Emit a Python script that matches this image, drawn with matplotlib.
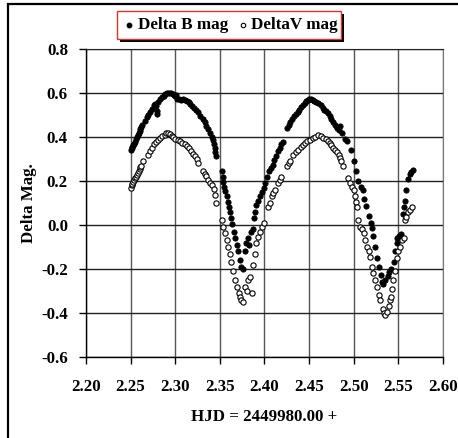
import matplotlib
matplotlib.use("Agg")
import matplotlib.pyplot as plt
from matplotlib.patches import Rectangle

# ---- data ----
b_hjd = [2.250, 2.251, 2.252, 2.253, 2.254, 2.255, 2.256, 2.257, 2.258, 2.259,
         2.260, 2.261, 2.262, 2.263, 2.266, 2.268, 2.270, 2.272, 2.274, 2.276,
         2.277, 2.278, 2.279, 2.280, 2.281, 2.283, 2.285, 2.287, 2.289, 2.291,
         2.293, 2.295, 2.297, 2.299, 2.300, 2.301, 2.302, 2.304, 2.306, 2.309,
         2.311, 2.313, 2.315, 2.317, 2.319, 2.321, 2.323, 2.325, 2.328, 2.331,
         2.333, 2.335, 2.337, 2.339, 2.341, 2.342, 2.343, 2.344, 2.345, 2.346,
         2.352, 2.353, 2.354, 2.355, 2.356, 2.358, 2.359, 2.360, 2.361, 2.363,
         2.364, 2.366, 2.367, 2.369, 2.370, 2.372, 2.374, 2.376, 2.378, 2.379,
         2.381, 2.383, 2.385, 2.387, 2.388, 2.389, 2.391, 2.393, 2.395, 2.397,
         2.399, 2.401, 2.403, 2.405, 2.407, 2.409, 2.411, 2.413, 2.415, 2.417,
         2.419, 2.421, 2.425, 2.427, 2.429, 2.431, 2.433, 2.435, 2.437, 2.439,
         2.441, 2.443, 2.445, 2.447, 2.449, 2.450, 2.452, 2.454, 2.456, 2.458,
         2.460, 2.463, 2.465, 2.467, 2.469, 2.471, 2.473, 2.475, 2.477, 2.479,
         2.481, 2.483, 2.485, 2.487, 2.490, 2.492, 2.497, 2.500, 2.502, 2.505,
         2.508, 2.510, 2.512, 2.514, 2.517, 2.519, 2.520, 2.522, 2.524, 2.526,
         2.528, 2.530, 2.532, 2.533, 2.535, 2.538, 2.540, 2.542, 2.545, 2.546,
         2.548, 2.549, 2.551, 2.553, 2.555, 2.556, 2.557, 2.559, 2.561, 2.563,
         2.564, 2.566]
b_mag = [0.340, 0.348, 0.355, 0.362, 0.370, 0.378, 0.390, 0.400, 0.410, 0.418,
         0.428, 0.436, 0.445, 0.455, 0.475, 0.490, 0.500, 0.512, 0.528, 0.545,
         0.552, 0.540, 0.520, 0.505, 0.560, 0.572, 0.580, 0.588, 0.595, 0.598,
         0.600, 0.598, 0.596, 0.590, 0.585, 0.592, 0.575, 0.572, 0.568, 0.575,
         0.570, 0.565, 0.558, 0.550, 0.540, 0.532, 0.522, 0.512, 0.495, 0.480,
         0.470, 0.452, 0.438, 0.420, 0.400, 0.385, 0.368, 0.350, 0.330, 0.315,
         0.245, 0.220, 0.195, 0.175, 0.155, 0.130, 0.105, 0.080, 0.060, 0.030,
         0.005, -0.030, -0.060, -0.090, -0.120, -0.160, -0.190, -0.200, -0.120, -0.080,
         -0.060, -0.090, -0.030, -0.020, 0.030, 0.060, 0.090, 0.110, 0.130, 0.150,
         0.170, 0.190, 0.220, 0.245, 0.260, 0.275, 0.295, 0.315, 0.335, 0.350,
         0.370, 0.378, 0.440, 0.455, 0.470, 0.482, 0.495, 0.505, 0.515, 0.525,
         0.535, 0.545, 0.555, 0.562, 0.570, 0.575, 0.572, 0.568, 0.565, 0.560,
         0.556, 0.545, 0.530, 0.525, 0.520, 0.510, 0.495, 0.482, 0.470, 0.455,
         0.440, 0.430, 0.450, 0.420, 0.390, 0.380, 0.340, 0.290, 0.245, 0.200,
         0.175, 0.160, 0.120, 0.085, 0.040, 0.010, -0.015, -0.050, -0.100, -0.150,
         -0.190, -0.225, -0.260, -0.270, -0.250, -0.230, -0.215, -0.200, -0.170, -0.120,
         -0.080, -0.060, -0.050, -0.040, 0.050, 0.080, 0.110, 0.160, 0.210, 0.230,
         0.240, 0.250]

v_hjd = [2.250, 2.251, 2.252, 2.253, 2.254, 2.255, 2.256, 2.257, 2.258, 2.259,
         2.260, 2.261, 2.262, 2.264, 2.270, 2.272, 2.274, 2.276, 2.278, 2.281,
         2.283, 2.285, 2.288, 2.290, 2.292, 2.294, 2.296, 2.298, 2.300, 2.303,
         2.305, 2.308, 2.311, 2.313, 2.315, 2.318, 2.320, 2.322, 2.324, 2.326,
         2.331, 2.333, 2.335, 2.337, 2.339, 2.341, 2.343, 2.344, 2.346,
         2.352, 2.354, 2.356, 2.358, 2.359, 2.361, 2.363, 2.365, 2.367, 2.369,
         2.371, 2.373, 2.374, 2.376, 2.378, 2.380, 2.382, 2.384, 2.386, 2.3875,
         2.389, 2.391, 2.393, 2.395, 2.397, 2.399,
         2.404, 2.406, 2.408, 2.410, 2.412, 2.415, 2.417, 2.419, 2.425, 2.427,
         2.429, 2.432, 2.435, 2.438, 2.441, 2.443, 2.445, 2.448, 2.451, 2.454,
         2.457, 2.460, 2.463, 2.466, 2.469, 2.471, 2.473, 2.475, 2.477, 2.479,
         2.481, 2.483, 2.485, 2.486, 2.488, 2.494, 2.496, 2.498, 2.500, 2.501,
         2.503, 2.504, 2.505, 2.507, 2.509, 2.511, 2.513, 2.515, 2.517, 2.518,
         2.520, 2.522, 2.524, 2.526, 2.528, 2.529, 2.533, 2.534, 2.535, 2.537,
         2.539, 2.541, 2.542, 2.543, 2.544, 2.546, 2.548, 2.550, 2.552, 2.554,
         2.556, 2.557, 2.559, 2.561, 2.563, 2.565]
v_mag = [0.170, 0.180, 0.188, 0.195, 0.205, 0.212, 0.220, 0.228, 0.236, 0.245,
         0.255, 0.262, 0.270, 0.289, 0.320, 0.335, 0.350, 0.366, 0.378, 0.388,
         0.395, 0.403, 0.410, 0.418, 0.420, 0.412, 0.403, 0.398, 0.392, 0.388,
         0.380, 0.373, 0.370, 0.358, 0.350, 0.335, 0.325, 0.313, 0.300, 0.283,
         0.245, 0.232, 0.222, 0.205, 0.192, 0.180, 0.162, 0.135, 0.100,
         0.023, -0.008, -0.038, -0.068, -0.100, -0.130, -0.170, -0.210, -0.250, -0.280,
         -0.310, -0.325, -0.340, -0.350, -0.280, -0.300, -0.250, -0.235, -0.310, -0.180,
         -0.130, -0.083, -0.053, -0.030, -0.008, 0.008,
         0.083, 0.100, 0.130, 0.145, 0.160, 0.190, 0.205, 0.220, 0.270, 0.280,
         0.290, 0.320, 0.330, 0.340, 0.355, 0.365, 0.372, 0.380, 0.388, 0.395,
         0.400, 0.410, 0.405, 0.395, 0.390, 0.380, 0.372, 0.364, 0.352, 0.340,
         0.330, 0.320, 0.305, 0.290, 0.266, 0.212, 0.190, 0.175, 0.160, 0.130,
         0.105, 0.083, 0.023, -0.008, -0.020, -0.038, -0.068, -0.100, -0.120, -0.144,
         -0.190, -0.220, -0.250, -0.280, -0.320, -0.340, -0.380, -0.400, -0.410, -0.395,
         -0.370, -0.340, -0.325, -0.290, -0.250, -0.210, -0.150, -0.120, -0.100, -0.068,
         -0.060, 0.023, 0.038, 0.061, 0.070, 0.083]

x_ticks = [2.20, 2.25, 2.30, 2.35, 2.40, 2.45, 2.50, 2.55, 2.60]
y_ticks = [-0.6, -0.4, -0.2, 0.0, 0.2, 0.4, 0.6, 0.8]

plt.rcParams['font.family'] = ['Liberation Serif', 'DejaVu Serif']
plt.rcParams['font.weight'] = 'bold'

FS = 12.2

fig = plt.figure(figsize=(4.58, 4.38), dpi=100)
W, H = 458, 438

# outer chart frame
fig.patches.append(Rectangle((8 / W, -0.05), 1.1, 1 - 4 / H + 0.05,
                             transform=fig.transFigure, fill=False,
                             edgecolor='black', linewidth=1.6))

ax = fig.add_axes([86 / W, 1 - 357 / H, (443 - 86) / W, (357 - 49) / H])
ax.set_xlim(2.20, 2.60)
ax.set_ylim(-0.6, 0.8)
ax.set_xticks(x_ticks)
ax.set_yticks(y_ticks)
ax.set_xticklabels([f"{t:.2f}" for t in x_ticks])
ax.set_yticklabels([f"{t:.1f}" for t in y_ticks])
ax.tick_params(axis='both', direction='out', length=5, width=1, labelsize=FS,
               color='black')
ax.tick_params(axis='x', pad=11)
ax.tick_params(axis='y', pad=8)
for lbl in ax.get_xticklabels() + ax.get_yticklabels():
    lbl.set_fontweight('bold')

ax.grid(True, axis='y', color='#222222', linewidth=1.0)
ax.grid(True, axis='x', color='#555555', linewidth=1.0)
ax.set_axisbelow(True)
for s in ['left', 'bottom']:
    ax.spines[s].set_color('black')
    ax.spines[s].set_linewidth(1.0)
ax.spines['top'].set_color('#222222')
ax.spines['right'].set_color('#777777')

ax.plot(b_hjd, b_mag, linestyle='none', marker='o', markersize=3.8,
        markerfacecolor='black', markeredgecolor='black', markeredgewidth=0.6)
ax.plot(v_hjd, v_mag, linestyle='none', marker='o', markersize=3.8,
        markerfacecolor='white', markeredgecolor='black', markeredgewidth=0.8)

ax.set_xlabel("HJD = 2449980.00 +", fontsize=FS, fontweight='bold', labelpad=10)
ax.set_ylabel("Delta Mag.", fontsize=FS, fontweight='bold', labelpad=3)

# legend box with shadow
lx0, ly0, lx1, ly1 = 117, 11, 341, 39
fig.patches.append(Rectangle(((lx0 + 3) / W, 1 - (ly1 + 3) / H), (lx1 - lx0) / W,
                             (ly1 - ly0) / H, transform=fig.transFigure,
                             facecolor='black', edgecolor='none', zorder=5))
fig.patches.append(Rectangle((lx0 / W, 1 - ly1 / H), (lx1 - lx0) / W,
                             (ly1 - ly0) / H, transform=fig.transFigure,
                             facecolor='white', edgecolor='#e03030', linewidth=1.0,
                             zorder=6))
ymid = 1 - 25 / H
fig.lines.append(plt.Line2D([129 / W], [ymid], transform=fig.transFigure,
                            marker='o', markersize=3.2, markerfacecolor='black',
                            markeredgecolor='black', linestyle='none', zorder=7))
fig.text(138 / W, ymid, "Delta B mag", fontsize=12.3, fontweight='bold',
         va='center', ha='left', zorder=7)
fig.lines.append(plt.Line2D([243 / W], [ymid], transform=fig.transFigure,
                            marker='o', markersize=3.2, markerfacecolor='white',
                            markeredgecolor='black', markeredgewidth=0.8,
                            linestyle='none', zorder=7))
fig.text(251 / W, ymid, "DeltaV mag", fontsize=12.3, fontweight='bold',
         va='center', ha='left', zorder=7)

fig.savefig("out.png", dpi=100)
